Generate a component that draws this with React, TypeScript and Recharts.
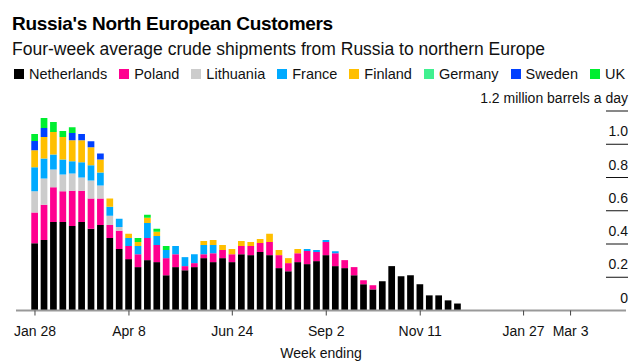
import React from 'react';
import { BarChart, Bar, XAxis, YAxis } from 'recharts';

// week ending dates, 2022
const weeks = [
  'Jan 28', 'Feb 4', 'Feb 11', 'Feb 18', 'Feb 25', 'Mar 4', 'Mar 11', 'Mar 18', 'Mar 25', 'Apr 1',
  'Apr 8', 'Apr 15', 'Apr 22', 'Apr 29', 'May 6', 'May 13', 'May 20', 'May 27', 'Jun 3', 'Jun 10',
  'Jun 17', 'Jun 24', 'Jul 1', 'Jul 8', 'Jul 15', 'Jul 22', 'Jul 29', 'Aug 5', 'Aug 12', 'Aug 19',
  'Aug 26', 'Sep 2', 'Sep 9', 'Sep 16', 'Sep 23', 'Sep 30', 'Oct 7', 'Oct 14', 'Oct 21', 'Oct 28',
  'Nov 4', 'Nov 11', 'Nov 18', 'Nov 25', 'Dec 2', 'Dec 9',
];

// million barrels a day
const netherlands = [
  0.404, 0.424, 0.533, 0.533, 0.509, 0.533, 0.491, 0.515, 0.436, 0.370,
  0.309, 0.261, 0.303, 0.291, 0.212, 0.261, 0.242, 0.261, 0.315, 0.291,
  0.315, 0.291, 0.339, 0.333, 0.352, 0.333, 0.255, 0.236, 0.291, 0.279,
  0.297, 0.333, 0.267, 0.255, 0.212, 0.158, 0.127, 0.176, 0.267, 0.206,
  0.212, 0.158, 0.091, 0.091, 0.061, 0.042,
];
const poland = [
  0.186, 0.212, 0.208, 0.184, 0.212, 0.188, 0.182, 0.158, 0.079, 0.109,
  0.079, 0.078, 0.133, 0.103, 0.103, 0.078, 0.025, 0.024, 0.024, 0.054,
  0.049, 0.048, 0.049, 0.055, 0.054, 0.079, 0.078, 0.049, 0.054, 0.079,
  0.055, 0.079, 0.078, 0.048, 0.049, 0.024, 0.025, 0, 0, 0,
  0, 0, 0, 0, 0, 0,
];
const lithuania = [
  0.127, 0.158, 0.107, 0.101, 0.103, 0.079, 0.109, 0.079, 0.055, 0.024,
  0, 0, 0, 0, 0, 0, 0, 0, 0, 0,
  0, 0, 0, 0, 0, 0, 0, 0, 0, 0,
  0, 0, 0, 0, 0, 0, 0, 0, 0, 0,
  0, 0, 0, 0, 0, 0,
];
const france = [
  0.145, 0.121, 0.091, 0.091, 0.073, 0.091, 0.091, 0.078, 0.054, 0.049,
  0.048, 0.049, 0.091, 0.054, 0.049, 0.049, 0.054, 0.054, 0.055, 0.049,
  0, 0, 0, 0, 0, 0, 0, 0, 0, 0.012,
  0.012, 0.012, 0.012, 0, 0, 0, 0, 0, 0, 0,
  0, 0, 0, 0, 0, 0,
];
const finland = [
  0.102, 0.129, 0.134, 0.135, 0.127, 0.133, 0.109, 0.079, 0.049, 0,
  0.025, 0.024, 0.031, 0.025, 0, 0, 0, 0, 0.024, 0.030,
  0.030, 0.031, 0.030, 0.024, 0.024, 0.049, 0.031, 0.030, 0.025, 0,
  0, 0, 0, 0, 0, 0, 0, 0, 0, 0,
  0, 0, 0, 0, 0, 0,
];
const germany = [
  0, 0, 0, 0, 0, 0, 0, 0, 0, 0,
  0, 0, 0, 0, 0, 0, 0, 0, 0, 0,
  0, 0, 0, 0, 0, 0, 0, 0, 0, 0,
  0, 0, 0, 0, 0, 0, 0, 0, 0, 0,
  0, 0, 0, 0, 0, 0,
];
const sweden = [
  0.056, 0.053, 0, 0, 0.043, 0.037, 0.036, 0.036, 0, 0,
  0, 0, 0, 0, 0, 0, 0, 0, 0, 0,
  0, 0, 0, 0, 0, 0, 0, 0, 0, 0,
  0, 0, 0, 0, 0, 0, 0, 0, 0, 0,
  0, 0, 0, 0, 0, 0,
];
const uk = [
  0.041, 0.061, 0.061, 0.035, 0.036, 0, 0, 0, 0, 0,
  0, 0.024, 0.018, 0.018, 0.024, 0, 0, 0, 0, 0,
  0, 0, 0, 0, 0, 0, 0, 0, 0, 0,
  0, 0, 0, 0, 0, 0, 0, 0, 0, 0,
  0, 0, 0, 0, 0, 0,
];

// x ticks: weeks after Jan 28 2022
const tickWeeks = [0, 10, 21, 31, 41, 52, 57];
const tickLabels = ['Jan 28', 'Apr 8', 'Jun 24', 'Sep 2', 'Nov 11', 'Jan 27', 'Mar 3'];
const yTicks = [0, 0.2, 0.4, 0.6, 0.8, 1.0, 1.2];

const series = [
  { key: 'Netherlands', color: '#000000', values: netherlands },
  { key: 'Poland', color: '#ff0090', values: poland },
  { key: 'Lithuania', color: '#cccccc', values: lithuania },
  { key: 'France', color: '#00aaff', values: france },
  { key: 'Finland', color: '#ffbf00', values: finland },
  { key: 'Germany', color: '#40f090', values: germany },
  { key: 'Sweden', color: '#0040ff', values: sweden },
  { key: 'UK', color: '#00ee30', values: uk },
];

const chartData = weeks.map((w, i) => {
  const row: any = { week: w, idx: i };
  series.forEach((s) => { row[s.key] = s.values[i]; });
  return row;
});

const FONT = "'Liberation Sans', Arial, sans-serif";

const renderYTick = ({ x, y, payload }: any) => {
  const v = payload.value;
  const label = v === 1.2 ? '1.2 million barrels a day' : v === 0 ? '0' : v.toFixed(1);
  return (
    <g>
      {v !== 0 && <line x1={x - 20} x2={x + 2} y1={y} y2={y} stroke="#111" strokeWidth={1} />}
      <text x={x + 2} y={y - 8} textAnchor="end" fill="#111" fontSize={14} fontFamily={FONT}>
        {label}
      </text>
    </g>
  );
};

export default function App() {
  return (
    <div style={{ position: 'absolute', left: 0, top: 0, width: 644, height: 364, background: '#fff', fontFamily: FONT, color: '#000' }}>
      <BarChart
        width={644}
        height={364}
        data={chartData}
        margin={{ top: 111, right: 17, bottom: 23.5, left: 16 }}
        barGap={0}
        style={{ position: 'absolute', left: 0, top: 0 }}
      >
        <XAxis
          dataKey="idx"
          type="number"
          domain={[-2.02, 62.9]}
          allowDataOverflow
          ticks={tickWeeks}
          tickFormatter={(v: number) => tickLabels[tickWeeks.indexOf(v)]}
          axisLine={{ stroke: '#999', strokeWidth: 2 }}
          tickLine={{ stroke: '#444' }}
          tickSize={5}
          tickMargin={11}
          height={30}
          tick={{ fill: '#111', fontSize: 14, fontFamily: FONT }}
        />
        <YAxis
          orientation="right"
          domain={[0, 1.2]}
          ticks={yTicks}
          width={1}
          axisLine={false}
          tickLine={false}
          tickSize={0}
          tickMargin={0}
          interval={0}
          tick={renderYTick}
        />
        {series.map((s) => (
          <Bar key={s.key} dataKey={s.key} stackId="a" fill={s.color} barSize={6.7} isAnimationActive={false} />
        ))}
      </BarChart>

      <div style={{ position: 'absolute', left: 12, top: 14, fontSize: 19, lineHeight: '19px', fontWeight: 'bold', letterSpacing: -0.3, whiteSpace: 'nowrap' }}>
        Russia's North European Customers
      </div>
      <div style={{ position: 'absolute', left: 12, top: 40.5, fontSize: 17.5, lineHeight: '17.5px', color: '#111', whiteSpace: 'nowrap' }}>
        Four-week average crude shipments from Russia to northern Europe
      </div>
      <div style={{ position: 'absolute', left: 14, top: 67, display: 'flex', alignItems: 'center', fontSize: 14.5, lineHeight: '14.5px', color: '#111', whiteSpace: 'nowrap' }}>
        {series.map((s) => (
          <div key={s.key} style={{ display: 'flex', alignItems: 'center', marginRight: 12 }}>
            <div style={{ width: 10, height: 10, background: s.color, marginRight: 5 }} />
            <span>{s.key}</span>
          </div>
        ))}
      </div>
      <div style={{ position: 'absolute', left: 16, width: 610, top: 345.5, textAlign: 'center', fontSize: 14, lineHeight: '14px', color: '#111' }}>
        Week ending
      </div>
    </div>
  );
}
